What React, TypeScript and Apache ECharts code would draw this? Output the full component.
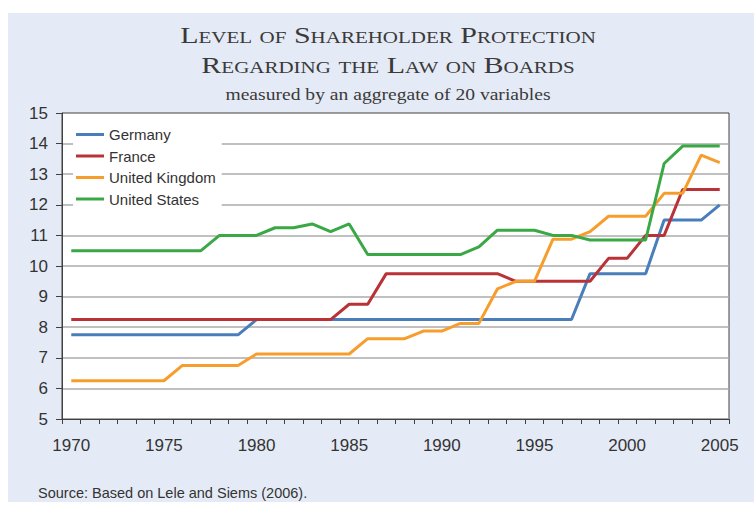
import React, { useEffect, useRef } from 'react';
import * as echarts from 'echarts';

const years = [
  '1970', '1971', '1972', '1973', '1974', '1975', '1976', '1977', '1978', '1979',
  '1980', '1981', '1982', '1983', '1984', '1985', '1986', '1987', '1988', '1989',
  '1990', '1991', '1992', '1993', '1994', '1995', '1996', '1997', '1998', '1999',
  '2000', '2001', '2002', '2003', '2004', '2005',
];

const germany = [
  7.75, 7.75, 7.75, 7.75, 7.75, 7.75, 7.75, 7.75, 7.75, 7.75,
  8.25, 8.25, 8.25, 8.25, 8.25, 8.25, 8.25, 8.25, 8.25, 8.25,
  8.25, 8.25, 8.25, 8.25, 8.25, 8.25, 8.25, 8.25, 9.75, 9.75,
  9.75, 9.75, 11.5, 11.5, 11.5, 12.0,
];

const france = [
  8.25, 8.25, 8.25, 8.25, 8.25, 8.25, 8.25, 8.25, 8.25, 8.25,
  8.25, 8.25, 8.25, 8.25, 8.25, 8.75, 8.75, 9.75, 9.75, 9.75,
  9.75, 9.75, 9.75, 9.75, 9.5, 9.5, 9.5, 9.5, 9.5, 10.25,
  10.25, 11.0, 11.0, 12.5, 12.5, 12.5,
];

const unitedKingdom = [
  6.25, 6.25, 6.25, 6.25, 6.25, 6.25, 6.75, 6.75, 6.75, 6.75,
  7.125, 7.125, 7.125, 7.125, 7.125, 7.125, 7.625, 7.625, 7.625, 7.875,
  7.875, 8.125, 8.125, 9.25, 9.5, 9.5, 10.875, 10.875, 11.125, 11.625,
  11.625, 11.625, 12.375, 12.375, 13.625, 13.375,
];

const unitedStates = [
  10.5, 10.5, 10.5, 10.5, 10.5, 10.5, 10.5, 10.5, 11.0, 11.0,
  11.0, 11.25, 11.25, 11.375, 11.125, 11.375, 10.375, 10.375, 10.375, 10.375,
  10.375, 10.375, 10.625, 11.17, 11.17, 11.17, 11.0, 11.0, 10.85, 10.85,
  10.85, 10.85, 13.35, 13.92, 13.92, 13.92,
];

const seriesNames = ['Germany', 'France', 'United Kingdom', 'United States'];
const seriesColors = ['#4a7ebb', '#b83237', '#f79d2c', '#3aa845'];
const seriesData = [germany, france, unitedKingdom, unitedStates];

const titleLine1 = 'Level of Shareholder Protection';
const titleLine2 = 'Regarding the Law on Boards';
const subtitle = 'measured by an aggregate of 20 variables';
const sourceText = 'Source: Based on Lele and Siems (2006).';

const SANS = 'Liberation Sans';
const SERIF_SC = 'Liberation Serif; font-variant: small-caps';

export default function App() {
  const ref = useRef<HTMLDivElement>(null);

  useEffect(() => {
    if (!ref.current) return;
    const chart = echarts.init(ref.current, null, { renderer: 'svg' });
    chart.setOption({
      animation: false,
      backgroundColor: 'transparent',
      grid: {
        left: 62,
        right: 25,
        top: 113,
        bottom: 87,
        show: true,
        backgroundColor: '#ffffff',
        borderColor: '#404040',
        borderWidth: 1,
        containLabel: false,
      },
      legend: {
        orient: 'vertical',
        left: 73,
        top: 120,
        padding: [7, 6, 8, 3],
        backgroundColor: '#ffffff',
        icon: 'rect',
        itemWidth: 28,
        itemHeight: 3,
        itemGap: 6.5,
        textStyle: { fontFamily: SANS, fontSize: 15, color: '#333333' },
        data: seriesNames,
      },
      xAxis: {
        type: 'category',
        data: years,
        boundaryGap: true,
        axisLine: { show: true, lineStyle: { color: '#404040', width: 1 } },
        axisTick: { show: true, interval: 0, length: 5, lineStyle: { color: '#404040' } },
        axisLabel: {
          interval: 4,
          margin: 18,
          fontFamily: SANS,
          fontSize: 17,
          color: '#333333',
        },
        splitLine: { show: false },
      },
      yAxis: {
        type: 'value',
        min: 5,
        max: 15,
        interval: 1,
        axisLine: { show: true, lineStyle: { color: '#404040', width: 1 } },
        axisTick: { show: true, length: 6, lineStyle: { color: '#404040' } },
        axisLabel: {
          margin: 14,
          fontFamily: SANS,
          fontSize: 17,
          color: '#333333',
        },
        splitLine: {
          show: true,
          showMaxLine: false,
          lineStyle: { color: '#ababab', width: 1.5 },
        },
      },
      series: seriesNames.map((name, i) => ({
        name,
        type: 'line',
        data: seriesData[i],
        symbol: 'none',
        showSymbol: false,
        lineStyle: { color: seriesColors[i], width: 3 },
        itemStyle: { color: seriesColors[i] },
      })),
      graphic: [
        {
          type: 'text',
          x: 388,
          y: 35.5,
          scaleX: 1.25,
          style: {
            text: titleLine1,
            fontSize: 24,
            fontFamily: SERIF_SC,
            fill: '#3a3a3a',
            align: 'center',
            verticalAlign: 'middle',
          },
        },
        {
          type: 'text',
          x: 388,
          y: 65.5,
          scaleX: 1.25,
          style: {
            text: titleLine2,
            fontSize: 24,
            fontFamily: SERIF_SC,
            fill: '#3a3a3a',
            align: 'center',
            verticalAlign: 'middle',
          },
        },
        {
          type: 'text',
          x: 388,
          y: 93.5,
          scaleX: 1.12,
          style: {
            text: subtitle,
            fontSize: 17.5,
            fontFamily: 'Liberation Serif',
            fill: '#3a3a3a',
            align: 'center',
            verticalAlign: 'middle',
          },
        },
        {
          type: 'text',
          x: 38,
          y: 493,
          style: {
            text: sourceText,
            fontSize: 14.5,
            fontFamily: SANS,
            fill: '#333333',
            align: 'left',
            verticalAlign: 'middle',
          },
        },
      ],
    });
    return () => chart.dispose();
  }, []);

  return (
    <div style={{ position: 'fixed', left: 0, top: 0, width: 754, height: 506, background: '#ffffff' }}>
      <div style={{ position: 'absolute', left: 8, top: 13, width: 746, height: 489, background: '#e5ebf6' }} />
      <div ref={ref} style={{ position: 'absolute', left: 0, top: 0, width: 754, height: 506 }} />
    </div>
  );
}
